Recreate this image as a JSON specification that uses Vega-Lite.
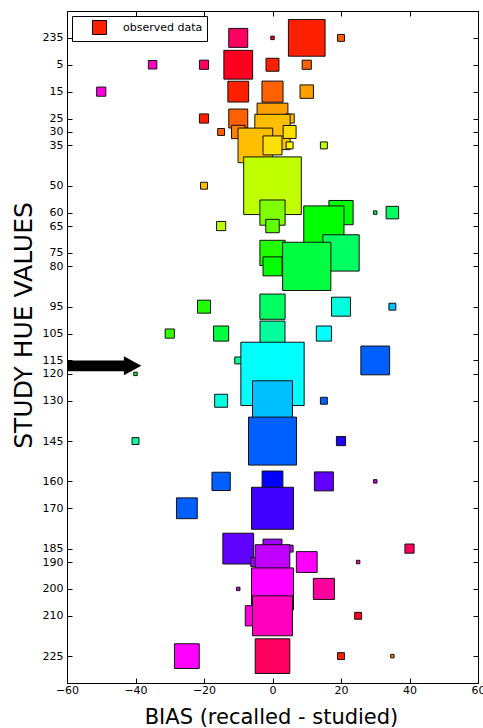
{
  "$schema": "https://vega.github.io/schema/vega-lite/v6.json",
  "width": 411,
  "height": 672,
  "autosize": {"type": "none"},
  "padding": {"left": 67, "top": 11, "right": 5, "bottom": 45},
  "background": "white",
  "config": {
    "view": {"stroke": "black", "strokeWidth": 1},
    "axis": {
      "domainColor": "black", "tickColor": "black", "labelColor": "black", "titleColor": "black",
      "labelFont": "DejaVu Sans", "labelFontSize": 11, "titleFont": "DejaVu Sans", "titleFontWeight": "normal",
      "grid": false, "tickSize": -5, "tickWidth": 1, "domainWidth": 1, "labelOverlap": false, "labelFlush": false
    }
  },
  "layer": [
    {
      "data": {"values": [
        {"study": -5, "bias": -10, "recalled": 225, "n": 30, "series": "observed data"},
        {"study": -5, "bias": 0, "recalled": 235, "n": 1, "series": "observed data"},
        {"study": -5, "bias": 10, "recalled": 5, "n": 112, "series": "observed data"},
        {"study": -5, "bias": 20, "recalled": 15, "n": 4, "series": "observed data"},
        {"study": 5, "bias": -35, "recalled": 210, "n": 6, "series": "observed data"},
        {"study": 5, "bias": -20, "recalled": 225, "n": 7, "series": "observed data"},
        {"study": 5, "bias": -10, "recalled": 235, "n": 69, "series": "observed data"},
        {"study": 5, "bias": 0, "recalled": 5, "n": 14, "series": "observed data"},
        {"study": 5, "bias": 10, "recalled": 15, "n": 7, "series": "observed data"},
        {"study": 15, "bias": -50, "recalled": 205, "n": 7, "series": "observed data"},
        {"study": 15, "bias": -10, "recalled": 5, "n": 36, "series": "observed data"},
        {"study": 15, "bias": 0, "recalled": 15, "n": 37, "series": "observed data"},
        {"study": 15, "bias": 10, "recalled": 25, "n": 15, "series": "observed data"},
        {"study": 25, "bias": -20, "recalled": 5, "n": 7, "series": "observed data"},
        {"study": 25, "bias": -10, "recalled": 15, "n": 30, "series": "observed data"},
        {"study": 25, "bias": 0, "recalled": 25, "n": 79, "series": "observed data"},
        {"study": 25, "bias": 5, "recalled": 30, "n": 7, "series": "observed data"},
        {"study": 30, "bias": -15, "recalled": 15, "n": 4, "series": "observed data"},
        {"study": 30, "bias": -10, "recalled": 20, "n": 15, "series": "observed data"},
        {"study": 30, "bias": 0, "recalled": 30, "n": 104, "series": "observed data"},
        {"study": 30, "bias": 5, "recalled": 35, "n": 14, "series": "observed data"},
        {"study": 35, "bias": -5, "recalled": 30, "n": 100, "series": "observed data"},
        {"study": 35, "bias": 0, "recalled": 35, "n": 30, "series": "observed data"},
        {"study": 35, "bias": 5, "recalled": 40, "n": 4, "series": "observed data"},
        {"study": 35, "bias": 15, "recalled": 50, "n": 4, "series": "observed data"},
        {"study": 50, "bias": -20, "recalled": 30, "n": 4, "series": "observed data"},
        {"study": 50, "bias": 0, "recalled": 50, "n": 277, "series": "observed data"},
        {"study": 60, "bias": 0, "recalled": 60, "n": 53, "series": "observed data"},
        {"study": 60, "bias": 20, "recalled": 80, "n": 49, "series": "observed data"},
        {"study": 60, "bias": 30, "recalled": 90, "n": 1, "series": "observed data"},
        {"study": 60, "bias": 35, "recalled": 95, "n": 13, "series": "observed data"},
        {"study": 65, "bias": -15, "recalled": 50, "n": 7, "series": "observed data"},
        {"study": 65, "bias": 0, "recalled": 65, "n": 15, "series": "observed data"},
        {"study": 65, "bias": 15, "recalled": 80, "n": 135, "series": "observed data"},
        {"study": 75, "bias": 0, "recalled": 75, "n": 53, "series": "observed data"},
        {"study": 75, "bias": 20, "recalled": 95, "n": 110, "series": "observed data"},
        {"study": 80, "bias": 0, "recalled": 80, "n": 30, "series": "observed data"},
        {"study": 80, "bias": 10, "recalled": 90, "n": 194, "series": "observed data"},
        {"study": 95, "bias": -20, "recalled": 75, "n": 14, "series": "observed data"},
        {"study": 95, "bias": 0, "recalled": 95, "n": 53, "series": "observed data"},
        {"study": 95, "bias": 20, "recalled": 115, "n": 30, "series": "observed data"},
        {"study": 95, "bias": 35, "recalled": 130, "n": 4, "series": "observed data"},
        {"study": 105, "bias": -30, "recalled": 72, "n": 7, "series": "observed data"},
        {"study": 105, "bias": -15, "recalled": 90, "n": 19, "series": "observed data"},
        {"study": 105, "bias": 0, "recalled": 105, "n": 52, "series": "observed data"},
        {"study": 105, "bias": 15, "recalled": 120, "n": 19, "series": "observed data"},
        {"study": 115, "bias": -10, "recalled": 105, "n": 4, "series": "observed data"},
        {"study": 115, "bias": 30, "recalled": 145, "n": 69, "series": "observed data"},
        {"study": 120, "bias": -40, "recalled": 80, "n": 1, "series": "observed data"},
        {"study": 120, "bias": 0, "recalled": 120, "n": 334, "series": "observed data"},
        {"study": 130, "bias": -15, "recalled": 115, "n": 14, "series": "observed data"},
        {"study": 130, "bias": 0, "recalled": 130, "n": 133, "series": "observed data"},
        {"study": 130, "bias": 15, "recalled": 145, "n": 4, "series": "observed data"},
        {"study": 145, "bias": -40, "recalled": 105, "n": 4, "series": "observed data"},
        {"study": 145, "bias": 0, "recalled": 145, "n": 192, "series": "observed data"},
        {"study": 145, "bias": 20, "recalled": 165, "n": 7, "series": "observed data"},
        {"study": 160, "bias": -15, "recalled": 145, "n": 28, "series": "observed data"},
        {"study": 160, "bias": 0, "recalled": 160, "n": 36, "series": "observed data"},
        {"study": 160, "bias": 15, "recalled": 175, "n": 30, "series": "observed data"},
        {"study": 160, "bias": 30, "recalled": 190, "n": 1, "series": "observed data"},
        {"study": 170, "bias": -25, "recalled": 145, "n": 36, "series": "observed data"},
        {"study": 170, "bias": 0, "recalled": 170, "n": 147, "series": "observed data"},
        {"study": 185, "bias": -10, "recalled": 175, "n": 79, "series": "observed data"},
        {"study": 185, "bias": 0, "recalled": 185, "n": 30, "series": "observed data"},
        {"study": 185, "bias": 5, "recalled": 190, "n": 4, "series": "observed data"},
        {"study": 185, "bias": 40, "recalled": 225, "n": 7, "series": "observed data"},
        {"study": 190, "bias": -5, "recalled": 185, "n": 7, "series": "observed data"},
        {"study": 190, "bias": 0, "recalled": 190, "n": 100, "series": "observed data"},
        {"study": 190, "bias": 10, "recalled": 200, "n": 36, "series": "observed data"},
        {"study": 190, "bias": 25, "recalled": 215, "n": 1, "series": "observed data"},
        {"study": 200, "bias": -10, "recalled": 190, "n": 1, "series": "observed data"},
        {"study": 200, "bias": 0, "recalled": 200, "n": 147, "series": "observed data"},
        {"study": 200, "bias": 15, "recalled": 215, "n": 37, "series": "observed data"},
        {"study": 210, "bias": -5, "recalled": 205, "n": 34, "series": "observed data"},
        {"study": 210, "bias": 0, "recalled": 210, "n": 133, "series": "observed data"},
        {"study": 210, "bias": 25, "recalled": 235, "n": 4, "series": "observed data"},
        {"study": 225, "bias": -25, "recalled": 200, "n": 51, "series": "observed data"},
        {"study": 225, "bias": 0, "recalled": 225, "n": 100, "series": "observed data"},
        {"study": 225, "bias": 20, "recalled": 5, "n": 4, "series": "observed data"},
        {"study": 225, "bias": 35, "recalled": 20, "n": 1, "series": "observed data"}
      ]},
      "mark": {"type": "point", "filled": true, "opacity": 1, "stroke": "#111111", "strokeWidth": 1},
      "encoding": {
        "x": {
          "field": "bias", "type": "quantitative",
          "scale": {"domain": [-60, 60], "nice": false, "zero": false},
          "axis": {"orient": "bottom", "values": [-60, -40, -20, 0, 20, 40, 60], "title": "BIAS (recalled - studied)",
                   "labelPadding": 6, "titleFontSize": 21, "titleX": 204, "titleY": 40, "titleBaseline": "alphabetic", "titleAlign": "center"}
        },
        "y": {
          "field": "study", "type": "quantitative",
          "scale": {"domain": [-15, 235], "nice": false, "zero": false, "reverse": true},
          "axis": {"orient": "left", "values": [-5, 5, 15, 25, 30, 35, 50, 60, 65, 75, 80, 95, 105, 115, 120, 130, 145, 160, 170, 185, 190, 200, 210, 225],
                   "labelExpr": "datum.value < 0 ? '235' : datum.label",
                   "title": "STUDY HUE VALUES", "labelPadding": 9, "titleFontSize": 25, "titleX": -36, "titleY": 314,
                   "titleAngle": 270, "titleBaseline": "alphabetic", "titleAlign": "center"}
        },
        "color": {
          "field": "recalled", "type": "quantitative",
          "scale": {"type": "linear", "domain": [0, 40, 80, 120, 160, 200, 240],
                    "range": ["#ff0000", "#ffff00", "#00ff00", "#00ffff", "#0000ff", "#ff00ff", "#ff0000"], "interpolate": "rgb"},
          "legend": null
        },
        "size": {
          "field": "n", "type": "quantitative",
          "scale": {"type": "linear", "domain": [0, 400], "range": [0, 4800]},
          "legend": null
        },
        "shape": {
          "field": "series", "type": "nominal",
          "scale": {"range": ["square"]},
          "legend": {
            "title": null, "orient": "top-left", "offset": 5, "padding": 4,
            "strokeColor": "black", "fillColor": "white", "cornerRadius": 0,
            "symbolSize": 196, "symbolOffset": 16, "labelOffset": 16,
            "labelFont": "DejaVu Sans", "labelFontSize": 11, "labelColor": "black",
            "symbolFillColor": "#ff2000", "symbolStrokeColor": "black", "symbolStrokeWidth": 1, "symbolOpacity": 1,
            "encode": {"symbols": {"update": {"fill": {"value": "#ff2000"}, "stroke": {"value": "black"}, "opacity": {"value": 1}}}}
          }
        }
      }
    },
    {
      "data": {"values": [{"bias": -49.1, "study": 117}]},
      "mark": {"type": "point", "shape": "M-1,-0.145L0.528,-0.145L0.528,-0.258L1,0L0.528,0.258L0.528,0.145L-1,0.145Z",
               "size": 5476, "filled": true, "color": "black", "opacity": 1, "strokeWidth": 0},
      "encoding": {
        "x": {"field": "bias", "type": "quantitative",
              "axis": {"orient": "top", "labels": false, "title": null, "values": [-60, -40, -20, 0, 20, 40, 60]}},
        "y": {"field": "study", "type": "quantitative",
              "axis": {"orient": "right", "labels": false, "title": null,
                       "values": [-5, 5, 15, 25, 30, 35, 50, 60, 65, 75, 80, 95, 105, 115, 120, 130, 145, 160, 170, 185, 190, 200, 210, 225]}}
      }
    }
  ],
  "resolve": {"axis": {"x": "independent", "y": "independent"}}
}
